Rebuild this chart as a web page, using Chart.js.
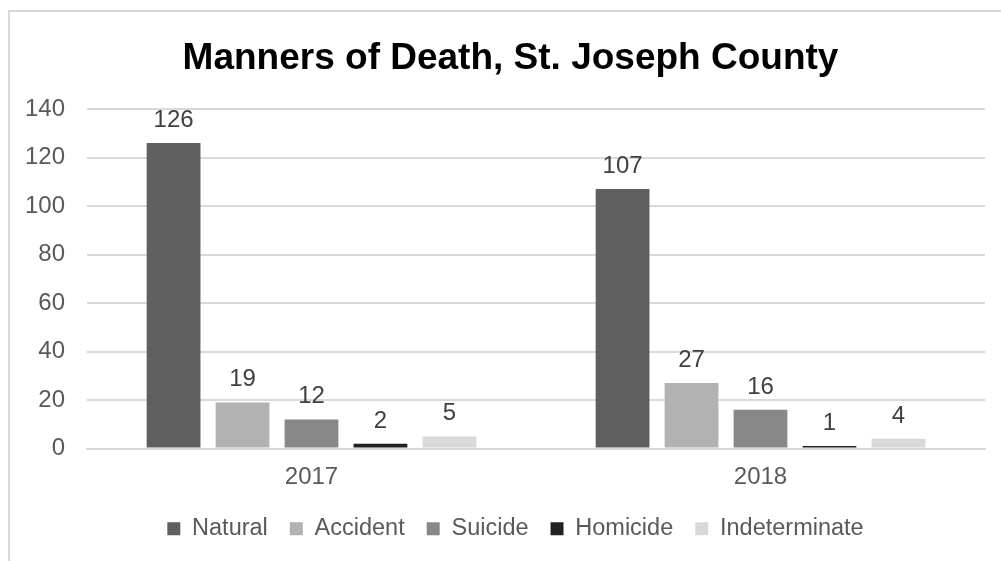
<!DOCTYPE html>
<html><head><meta charset="utf-8">
<script src="https://cdn.jsdelivr.net/npm/chart.js@4.4.0/dist/chart.umd.min.js"></script>
<style>html,body{margin:0;padding:0;background:#fff}#wrap{width:1001px;height:561px;position:relative}</style>
</head><body><div id="wrap"><canvas id="c" width="1001" height="561"></canvas></div>
<script>
const categories = ["2017", "2018"];
const seriesNames = ["Natural", "Accident", "Suicide", "Homicide", "Indeterminate"];
const natural = [126, 107];
const accident = [19, 27];
const suicide = [12, 16];
const homicide = [2, 1];
const indeterminate = [5, 4];
const seriesColors = ["#5f5f5f", "#b2b2b2", "#888888", "#222222", "#d9d9d9"];
const yTicks = [0, 20, 40, 60, 80, 100, 120, 140];

const seriesValues = [natural, accident, suicide, homicide, indeterminate];
const FONT = '"Liberation Sans", Arial, sans-serif';

const frame = {
  id: 'frame',
  beforeDraw(chart) {
    const ctx = chart.ctx;
    ctx.save();
    ctx.fillStyle = '#fff';
    ctx.fillRect(0, 0, chart.width, chart.height);
    ctx.strokeStyle = '#d9d9d9';
    ctx.lineWidth = 2;
    ctx.beginPath();
    ctx.moveTo(9, chart.height);
    ctx.lineTo(9, 11);
    ctx.lineTo(chart.width, 11);
    ctx.stroke();
    ctx.restore();
  }
};
const shifter = {
  id: 'shifter',
  afterLayout(chart) {
    const t = chart.titleBlock;
    if (t) { t.left += 13; t.right += 13; }
    const l = chart.legend;
    if (l) { l.left += 18; l.right += 18; }
  }
};
const valueLabels = {
  id: 'valueLabels',
  afterDatasetsDraw(chart) {
    const ctx = chart.ctx;
    ctx.save();
    ctx.font = '24px ' + FONT;
    ctx.fillStyle = '#404040';
    ctx.textAlign = 'center';
    ctx.textBaseline = 'alphabetic';
    chart.data.datasets.forEach((ds, i) => {
      chart.getDatasetMeta(i).data.forEach((el, j) => {
        ctx.fillText(String(ds.data[j]), el.x, el.y - 16);
      });
    });
    ctx.restore();
  }
};

new Chart(document.getElementById('c'), {
  type: 'bar',
  data: {
    labels: categories,
    datasets: seriesNames.map((n, i) => ({
      label: n,
      data: seriesValues[i],
      backgroundColor: seriesColors[i],
      borderWidth: 0,
      categoryPercentage: 0.768,
      barPercentage: 0.78
    }))
  },
  options: {
    responsive: false,
    animation: false,
    layout: { padding: { left: 10, right: 16, top: 37, bottom: 10.5 } },
    plugins: {
      title: {
        display: true,
        text: 'Manners of Death, St. Joseph County',
        color: '#000',
        font: { family: FONT, size: 37, weight: 'bold' },
        padding: { top: 0, bottom: 27.6 }
      },
      legend: {
        position: 'bottom',
        labels: {
          color: '#595959',
          font: { family: FONT, size: 23.5 },
          boxWidth: 13, boxHeight: 13, padding: 22
        }
      },
      tooltip: { enabled: false }
    },
    scales: {
      x: {
        afterFit(scale) { scale.height = 46.5; },
        grid: { display: false, drawTicks: false },
        border: { display: true, color: '#d9d9d9', width: 2 },
        ticks: { color: '#595959', font: { family: FONT, size: 24 }, padding: 14 }
      },
      y: {
        min: 0, max: 140,
        afterBuildTicks(scale) { scale.ticks = yTicks.map(v => ({ value: v })); },
        afterFit(scale) { scale.width = 77; },
        grid: { color: '#d9d9d9', lineWidth: 2, drawTicks: false },
        border: { display: false },
        ticks: { color: '#595959', font: { family: FONT, size: 24 }, padding: 22 }
      }
    }
  },
  plugins: [frame, shifter, valueLabels]
});
</script>
</body></html>
